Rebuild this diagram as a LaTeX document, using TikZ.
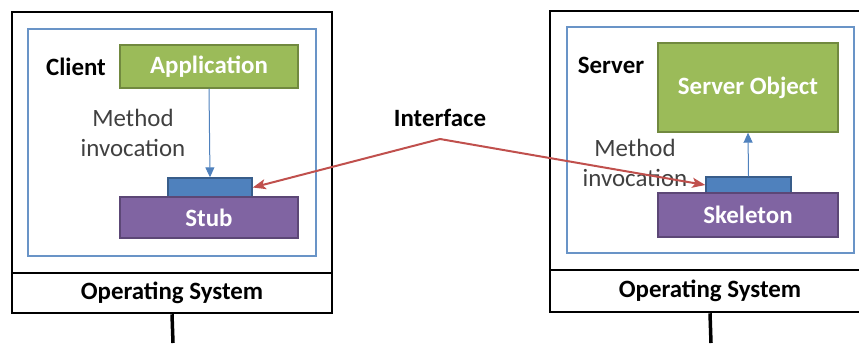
\documentclass[tikz,border=0pt]{standalone}
\usepackage{fontspec}
\setmainfont{Carlito}
\usetikzlibrary{arrows.meta,positioning}
\definecolor{offgreen}{HTML}{9BBB59}
\definecolor{offgreenline}{HTML}{71893F}
\definecolor{offpurple}{HTML}{8064A2}
\definecolor{offpurpleline}{HTML}{5C4776}
\definecolor{offblue}{HTML}{4F81BD}
\definecolor{offblueline}{HTML}{385D8A}
\definecolor{offred}{HTML}{C0504D}

\begin{document}
\begin{tikzpicture}[x=1bp,y=-1bp,
    font=\fontsize{25}{30}\selectfont,
    hostline/.style={draw=black,line width=2.5bp},
    procline/.style={draw=offblue!85!white,line width=2bp},
    greenbox/.style={fill=offgreen,draw=offgreenline,line width=1.4bp,text=white,font=\fontsize{25}{30}\selectfont\bfseries,inner sep=0pt},
    purplebox/.style={fill=offpurple,draw=offpurpleline,line width=1.4bp,text=white,font=\fontsize{25}{30}\selectfont\bfseries,inner sep=0pt},
    portbox/.style={fill=offblue,draw=offblueline,line width=1.4bp,inner sep=0pt},
    calltip/.style={draw=offblue,line width=1bp,-{Triangle[length=10bp,width=9bp]}},
    wiretip/.style={draw=offred,line width=2bp,-{Stealth[length=13bp,width=10bp,inset=3bp]}},
    lbl/.style={font=\fontsize{25}{30}\selectfont\bfseries,inner sep=0pt},
    note/.style={font=\fontsize{25}{30}\selectfont,align=center,inner sep=0pt,text=black!75}]
  \useasboundingbox (0,0) rectangle (859,343);
  % client side
  \node[hostline,minimum width=320bp,minimum height=261bp,inner sep=0pt] (clienthost) at (172,142.5) {};
  \node[hostline,minimum width=320bp,minimum height=40bp,inner sep=0pt,lbl] (clientos) at (172,293) {Operating System};
  \node[procline,minimum width=288bp,minimum height=227bp,inner sep=0pt] (clientproc) at (172,142.5) {};
  \node[lbl] (client) at (76,67) {Client};
  \node[greenbox,minimum width=178bp,minimum height=43bp] (app) at (209,66.5) {Application};
  \node[portbox,minimum width=84bp,minimum height=19bp] (stubport) at (210,187.5) {};
  \node[purplebox,minimum width=178bp,minimum height=41bp] (stub) at (209,217.5) {Stub};
  \node[note] (clientcall) at (133,133) {Method\\invocation};
  \coordinate (clientground) at (173,343);
  % server side
  \node[hostline,minimum width=320bp,minimum height=259bp,inner sep=0pt] (serverhost) at (710,140.5) {};
  \node[hostline,minimum width=320bp,minimum height=42bp,inner sep=0pt,lbl] (serveros) at (710,291) {Operating System};
  \node[procline,minimum width=287bp,minimum height=226bp,inner sep=0pt] (serverproc) at (710.5,140) {};
  \node[lbl] (server) at (611,65) {Server};
  \node[greenbox,minimum width=180bp,minimum height=89bp] (servobj) at (748,87.5) {Server Object};
  \node[portbox,minimum width=85bp,minimum height=16bp] (skelport) at (748.5,185) {};
  \node[purplebox,minimum width=180bp,minimum height=44bp] (skel) at (748,215) {Skeleton};
  \node[note] (servercall) at (635,163) {Method\\invocation};
  \coordinate (serverground) at (711,343);
  % interface
  \node[lbl] (iface) at (440,118) {Interface};
  \coordinate (apex) at (440,139);
  % connectors
  \draw[calltip] (app.south) -- (stubport.north);
  \draw[calltip] (skelport.north) -- (servobj.south);
  \draw[wiretip] (apex) -- (stubport.east);
  \draw[wiretip] (apex) -- (skelport.west);
  \draw[line width=3.5bp] (clientos.south) -- (clientground);
  \draw[line width=3.5bp] (serveros.south) -- (serverground);
\end{tikzpicture}
\end{document}
